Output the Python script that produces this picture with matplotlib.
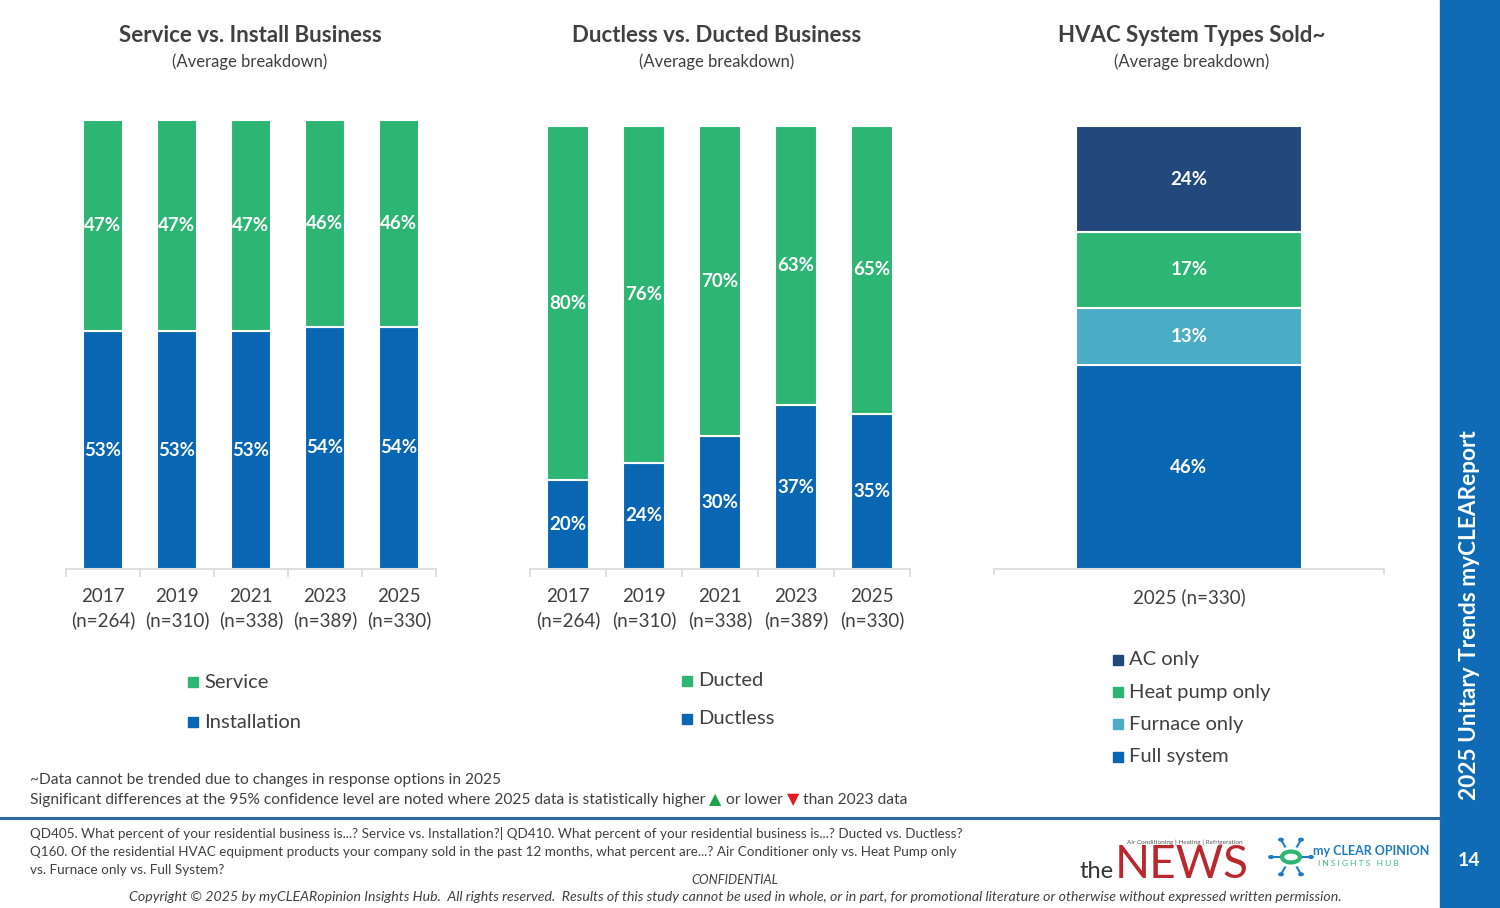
import numpy as np
import matplotlib
matplotlib.use("Agg")
import matplotlib.pyplot as plt
from matplotlib.patches import Rectangle, Circle
from matplotlib.lines import Line2D

plt.rcParams['font.family'] = ['Lato', 'DejaVu Sans']

# ---- data ----
years = ['2017', '2019', '2021', '2023', '2025']
n_sizes = [264, 310, 338, 389, 330]
installation = [53, 53, 53, 54, 54]
service = [47, 47, 47, 46, 46]
ductless = [20, 24, 30, 37, 35]
ducted = [80, 76, 70, 63, 65]
hvac_types = ['Full system', 'Furnace only', 'Heat pump only', 'AC only']
hvac_pct = [46, 13, 17, 24]
hvac_n = 330

BLUE = '#0866B3'
GREEN = '#2DB574'
NAVY = '#23487C'
TEAL = '#4BACC6'
GREY = '#404040'
SIDE = '#0F6BB6'
hvac_colors = [BLUE, TEAL, GREEN, NAVY]

W, H = 1500, 908
fig = plt.figure(figsize=(W / 100, H / 100), dpi=100)


def fx(px):
    return px / W


def fy(py):
    return 1 - py / H


def make_ax(x0, x1, ytop):
    ax = fig.add_axes([fx(x0), fy(569), fx(x1) - fx(x0), (569 - ytop) / H])
    for s in ['top', 'right', 'left']:
        ax.spines[s].set_visible(False)
    ax.spines['bottom'].set_color('#D9D9D9')
    ax.spines['bottom'].set_linewidth(1.2)
    ax.set_yticks([])
    ax.set_ylim(0, 100)
    return ax


def stacked(ax, x, series, colors, width):
    bottom = np.zeros(len(x))
    for vals, col in zip(series, colors):
        vals = np.array(vals, dtype=float)
        ax.bar(x, vals, width, bottom=bottom, color=col, edgecolor='white', linewidth=1.5)
        for xi, b, v in zip(x, bottom, vals):
            ax.text(xi, b + v / 2, f'{int(v)}%', ha='center', va='center',
                    color='white', fontsize=13.5, fontweight='bold')
        bottom += vals


def cat_ticks(ax, n):
    ax.set_xlim(-0.5, n - 0.5)
    ax.set_xticks(np.arange(-0.5, n, 1.0))
    ax.set_xticklabels([])
    ax.set_xticks(np.arange(n), minor=True)
    ax.tick_params(axis='x', which='major', length=6, color='#D9D9D9', width=1.2)
    ax.tick_params(axis='x', which='minor', length=0, labelsize=13.5, labelcolor=GREY, pad=14)


# ---- panel 1 ----
ax1 = make_ax(66, 436, 120)
x = np.arange(len(years))
stacked(ax1, x, [installation, service], [BLUE, GREEN], 0.55)
cat_ticks(ax1, len(years))
ax1.set_xticklabels([f'{y}\n(n={n})' for y, n in zip(years, n_sizes)], minor=True, linespacing=1.4)

# ---- panel 2 ----
ax2 = make_ax(530, 910, 126)
stacked(ax2, x, [ductless, ducted], [BLUE, GREEN], 0.55)
cat_ticks(ax2, len(years))
ax2.set_xticklabels([f'{y}\n(n={n})' for y, n in zip(years, n_sizes)], minor=True, linespacing=1.4)

# ---- panel 3 ----
ax3 = make_ax(994, 1384, 126)
stacked(ax3, [0], [[v] for v in hvac_pct], hvac_colors, 0.58)
ax3.set_xlim(-0.5, 0.5)
ax3.set_xticks([-0.5, 0.5])
ax3.set_xticklabels([])
ax3.set_xticks([0], minor=True)
ax3.set_xticklabels([f'2025 (n={hvac_n})'], minor=True)
ax3.tick_params(axis='x', which='major', length=4, color='#D9D9D9', width=1.2)
ax3.tick_params(axis='x', which='minor', length=0, labelsize=13.5, labelcolor=GREY, pad=14)

# ---- titles ----
titles = [('Service vs. Install Business', 250),
          ('Ductless vs. Ducted Business', 717),
          ('HVAC System Types Sold~', 1192)]
for t, cx in titles:
    fig.text(fx(cx), fy(36), t, ha='center', va='center', fontsize=16,
             fontweight='bold', color=GREY)
    fig.text(fx(cx), fy(62), '(Average breakdown)', ha='center', va='center',
             fontsize=12, color=GREY)


# ---- legends ----
def legend_item(px, py, label, color):
    s = 10
    fig.patches.append(Rectangle((fx(px - s / 2), fy(py + s / 2)), s / W, s / H,
                                 transform=fig.transFigure, color=color))
    fig.text(fx(px + 11), fy(py), label, ha='left', va='center', fontsize=14.5, color=GREY)


legend_item(193, 682, 'Service', GREEN)
legend_item(193, 722, 'Installation', BLUE)
legend_item(687, 681, 'Ducted', GREEN)
legend_item(687, 719, 'Ductless', BLUE)
for i, (lab, col) in enumerate(zip(hvac_types[::-1], hvac_colors[::-1])):
    legend_item(1118, 660 + 32.2 * i, lab, col)

# ---- footnotes ----
fig.text(fx(30), fy(780), '~Data cannot be trended due to changes in response options in 2025',
         ha='left', va='center', fontsize=11.2, color=GREY)
renderer = fig.canvas.get_renderer()
pieces = [('Significant differences at the 95% confidence level are noted where 2025 data is statistically higher ', GREY),
          ('\u25B2', '#1BA345'), (' or lower ', GREY), ('\u25BC', '#E31B23'), (' than 2023 data', GREY)]
cur = fx(30)
for txt, col in pieces:
    tri = txt in ('\u25B2', '\u25BC')
    t = fig.text(cur, fy(800), txt, ha='left', va='center', fontsize=11.5 if tri else 11.2,
                 color=col, family=['DejaVu Sans'] if tri else ['Lato', 'DejaVu Sans'])
    bb = t.get_window_extent(renderer)
    cur += bb.width / W

fig.add_artist(Line2D([0, fx(1440)], [fy(818), fy(818)], color='#2D6AA3', lw=2.2))

qtxt = ['QD405. What percent of your residential business is...? Service vs. Installation?| QD410. What percent of your residential business is...? Ducted vs. Ductless?',
        'Q160. Of the residential HVAC equipment products your company sold in the past 12 months, what percent are...? Air Conditioner only vs. Heat Pump only',
        'vs. Furnace only vs. Full System?']
for i, q in enumerate(qtxt):
    fig.text(fx(30), fy(834 + 18 * i), q, ha='left', va='center', fontsize=9.7, color=GREY)

fig.text(fx(735), fy(880), 'CONFIDENTIAL', ha='center', va='center', fontsize=9.3,
         style='italic', color=GREY)
fig.text(fx(735), fy(897), 'Copyright \u00a9 2025 by myCLEARopinion Insights Hub.  All rights reserved.  '
         'Results of this study cannot be used in whole, or in part, for promotional literature or '
         'otherwise without expressed written permission.', ha='center', va='center',
         fontsize=10.2, style='italic', color=GREY)

# ---- logos ----
fig.text(fx(1185), fy(842), 'Air Conditioning | Heating | Refrigeration', ha='center', va='center',
         fontsize=4.6, color='#555555')
fig.text(fx(1080), fy(878), 'the', ha='left', va='baseline', fontsize=17, color='#333333')
fig.text(fx(1115), fy(878), 'NEWS', ha='left', va='baseline', fontsize=33, color='#B8282E')
fig.add_artist(Circle((fx(1291), fy(857)), 9 / W, transform=fig.transFigure,
                      fill=False, ec='#2DB574', lw=3))
for ang in [0, 60, 120, 180, 240, 300]:
    a = np.deg2rad(ang)
    x0, y0 = 1291 + 12 * np.cos(a), 857 + 12 * np.sin(a)
    x1, y1 = 1291 + 20 * np.cos(a), 857 + 20 * np.sin(a)
    fig.add_artist(Line2D([fx(x0), fx(x1)], [fy(y0), fy(y1)], color='#1F7BC1', lw=1.5))
    fig.add_artist(Circle((fx(x1), fy(y1)), 2.2 / W, transform=fig.transFigure, color='#1F7BC1'))
fig.text(fx(1313), fy(851), 'my CLEAR OPINION', ha='left', va='center', fontsize=9,
         fontweight='bold', color='#1F7BC1')
fig.text(fx(1318), fy(863), 'I N S I G H T S   H U B', ha='left', va='center', fontsize=6,
         color='#3DBB8A')

# ---- side bar ----
fig.patches.append(Rectangle((fx(1440), 0), 60 / W, 1, transform=fig.transFigure, color=SIDE))
fig.text(fx(1470), fy(615), '2025 Unitary Trends myCLEAReport', rotation=90, ha='center',
         va='center', fontsize=16.3, fontweight='bold', color='white')
fig.text(fx(1469), fy(861), '14', ha='center', va='center', fontsize=14, fontweight='bold',
         color='white')

fig.savefig('out.png', dpi=100)
